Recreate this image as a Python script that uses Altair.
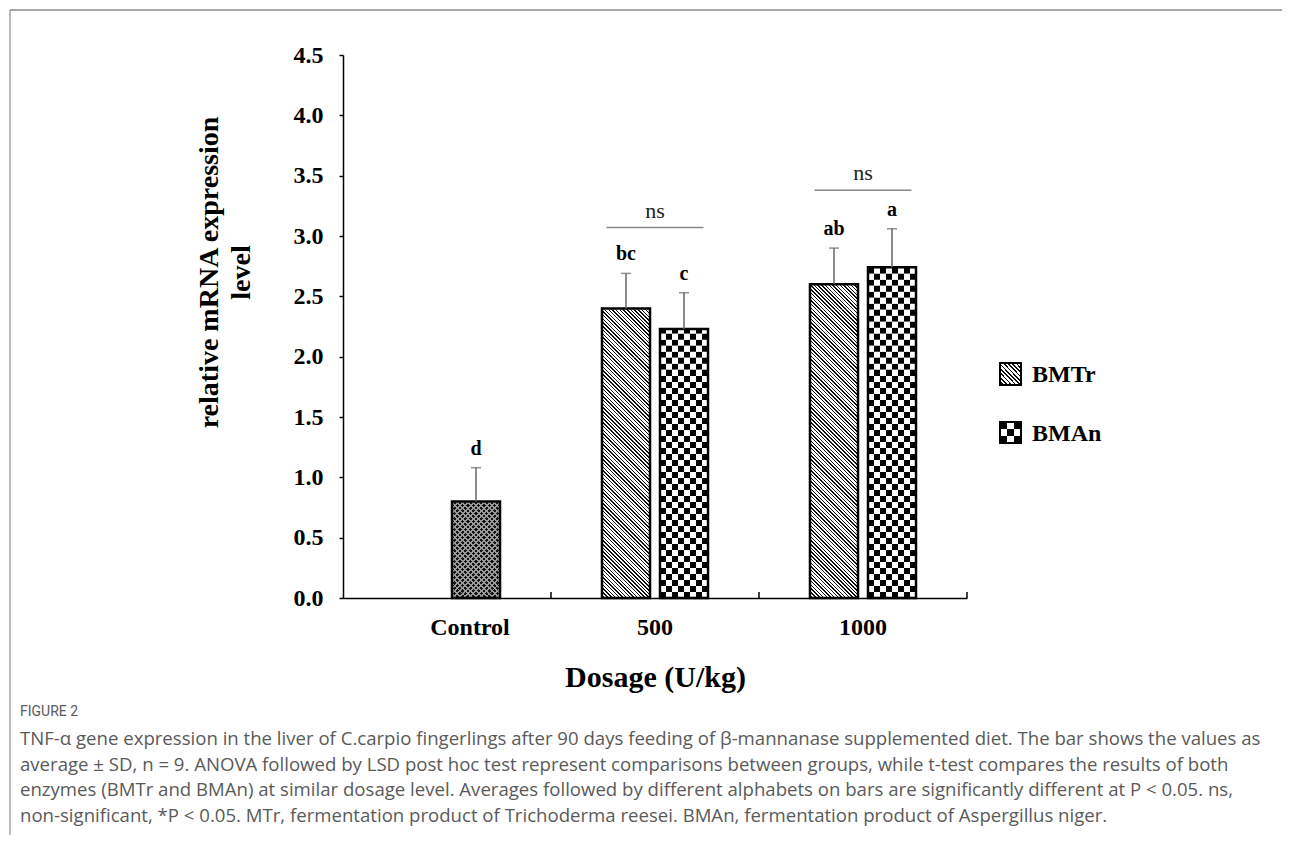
import altair as alt
import pandas as pd

# ---------------- data ----------------
categories = ["Control", "500", "1000"]
bar_cat = ["Control", "500", "500", "1000", "1000"]
bar_series = ["Control", "BMTr", "BMAn", "BMTr", "BMAn"]
bar_slot = ["BMAn", "BMTr", "BMAn", "BMTr", "BMAn"]
bar_mean = [0.80, 2.40, 2.23, 2.60, 2.74]
bar_sd = [0.28, 0.29, 0.30, 0.30, 0.32]
bar_letter = ["d", "bc", "c", "ab", "a"]
ns_cat = ["500", "1000"]
ns_y = [3.07, 3.38]
ns_text = ["ns", "ns"]
y_ticks = [0.0, 0.5, 1.0, 1.5, 2.0, 2.5, 3.0, 3.5, 4.0, 4.5]
legend_series = ["BMTr", "BMAn"]
x_title = "Dosage (U/kg)"
y_title = ["relative mRNA expression", "level"]
caption_head = "FIGURE 2"
caption_lines = [
    "TNF-\u03b1 gene expression in the liver of C.carpio fingerlings after 90 days feeding of \u03b2-mannanase supplemented diet. The bar shows the values as",
    "average \u00b1 SD, n = 9. ANOVA followed by LSD post hoc test represent comparisons between groups, while t-test compares the results of both",
    "enzymes (BMTr and BMAn) at similar dosage level. Averages followed by different alphabets on bars are significantly different at P < 0.05. ns,",
    "non-significant, *P < 0.05. MTr, fermentation product of Trichoderma reesei. BMAn, fermentation product of Aspergillus niger.",
]

bars = pd.DataFrame({
    "cat": bar_cat, "series": bar_series, "slot": bar_slot,
    "mean": bar_mean, "sd": bar_sd, "letter": bar_letter,
})
ns_df = pd.DataFrame({"cat": ns_cat, "y": ns_y, "t": ns_text})
one = pd.DataFrame({"i": [0]})

# ---------------- layout / style ----------------
W, H, YMAX = 624, 543, 4.5
PI, PO = 0.172, 0.879
SERIF = "Liberation Serif"
px_per_unit = H / YMAX
bar_px = (W / 3) / (2 - PI + 2 * PO) * (1 - PI)
TILE = bar_px / px_per_unit          # square tile (data units)
CELL = (bar_px / 8) / px_per_unit    # checker row height


def hstripes(n, first, second):
    stops = []
    for i in range(n):
        c = first if i % 2 == 0 else second
        stops += [{"offset": i / n, "color": c}, {"offset": (i + 1) / n, "color": c}]
    return {"gradient": "linear", "x1": 0, "y1": 0, "x2": 1, "y2": 0, "stops": stops}


def diag(n, line, bg, frac, back=True):
    stops = []
    for i in range(n):
        o, m, e = i / n, min(1.0, (i + frac) / n), min(1.0, (i + 1) / n)
        stops += [{"offset": o, "color": line}, {"offset": m, "color": line},
                  {"offset": m, "color": bg}, {"offset": e, "color": bg}]
    if back:
        g = {"x1": 1, "y1": 0, "x2": 0, "y2": 1}
    else:
        g = {"x1": 0, "y1": 0, "x2": 1, "y2": 1}
    g.update({"gradient": "linear", "stops": stops})
    return g


hatch = diag(26, "#111111", "#ffffff", 0.38, back=True)
mesh1 = diag(18, "#9a9a9a", "#151515", 0.36, back=True)
mesh2 = diag(18, "#9a9a9a", "rgba(0,0,0,0)", 0.36, back=False)
checkA = hstripes(8, "#000000", "#ffffff")
checkB = hstripes(8, "#ffffff", "#000000")
leg_hatch = diag(10, "#111111", "#ffffff", 0.4, back=True)
leg_checkA = hstripes(3, "#000000", "#ffffff")
leg_checkB = hstripes(3, "#ffffff", "#000000")

X = alt.X(
    "cat:N",
    scale=alt.Scale(domain=categories, paddingInner=0, paddingOuter=0),
    axis=alt.Axis(
        title=x_title, titleFont=SERIF, titleFontSize=30, titleFontWeight="bold",
        titleColor="black", titleY=79, titleBaseline="middle",
        labelFont=SERIF, labelFontSize=24, labelFontWeight="bold", labelColor="black",
        labelAngle=0, labelPadding=17, ticks=False, tickSize=0,
        labelOffset={"condition": {"test": "datum.value == 'Control'", "value": 23}, "value": 0},
        domainColor="black", domainWidth=1.5, grid=False,
    ),
)
XO = alt.XOffset("slot:N", scale=alt.Scale(domain=legend_series, paddingInner=PI, paddingOuter=PO))


def Y(field):
    return alt.Y(
        field,
        type="quantitative",
        scale=alt.Scale(domain=[0, YMAX], nice=False, zero=True),
        axis=alt.Axis(
            values=y_ticks, format=".1f",
            labelFont=SERIF, labelFontSize=24, labelFontWeight="bold", labelColor="black",
            labelPadding=16, tickSize=4, tickWidth=1.5, tickColor="black",
            domainColor="black", domainWidth=1.5, grid=False,
            title=y_title, titleFont=SERIF, titleFontSize=28, titleFontWeight="bold",
            titleColor="black", titleAngle=270, titleAlign="center", titleBaseline="top",
            titleX=-148, titleY=217, titleLineHeight=32,
        ),
    )


base = alt.Chart(bars)


def tiles(series, size, clip=False):
    c = base.transform_filter(alt.datum.series == series).transform_calculate(
        k=f"sequence(0, ceil(datum.mean / {size}))"
    ).transform_flatten(["k"])
    if clip:
        c = c.transform_calculate(y0=f"datum.k * {size}", y1=f"min(datum.mean, (datum.k + 1) * {size})",
                                  par="datum.k % 2")
    else:
        c = c.transform_calculate(y0=f"datum.k * {size}", y1=f"(datum.k + 1) * {size}")
    return c


layers = []
# diagonal hatch (BMTr)
layers.append(tiles("BMTr", TILE).mark_rect(fill=hatch).encode(x=X, xOffset=XO, y=Y("y0"), y2="y1:Q"))
# mesh (Control)
layers.append(tiles("Control", TILE).mark_rect(fill=mesh1).encode(x=X, xOffset=XO, y=Y("y0"), y2="y1:Q"))
layers.append(tiles("Control", TILE).mark_rect(fill=mesh2).encode(x=X, xOffset=XO, y=Y("y0"), y2="y1:Q"))
# white cover above the bars' tops
layers.append(
    base.transform_filter(alt.datum.series != "BMAn")
    .transform_calculate(top=f"ceil(datum.mean / {TILE}) * {TILE} + 0.05")
    .mark_rect(fill="white", stroke="white", strokeWidth=1.5)
    .encode(x=X, xOffset=XO, y=Y("mean"), y2="top:Q")
)
# checkerboard (BMAn)
chk = tiles("BMAn", CELL, clip=True)
layers.append(chk.transform_filter("datum.par == 0").mark_rect(fill=checkA)
              .encode(x=X, xOffset=XO, y=Y("y0"), y2="y1:Q"))
layers.append(chk.transform_filter("datum.par == 1").mark_rect(fill=checkB)
              .encode(x=X, xOffset=XO, y=Y("y0"), y2="y1:Q"))
# bar outlines
layers.append(base.mark_rect(fill="transparent", stroke="black", strokeWidth=2.5)
              .encode(x=X, xOffset=XO, y=Y("mean")))
# error bars (upper half)
err = base.transform_calculate(hi="datum.mean + datum.sd")
layers.append(err.mark_rule(color="#666666", strokeWidth=1.5)
              .encode(x=X, xOffset=XO, y=Y("mean"), y2="hi:Q"))
layers.append(err.mark_tick(orient="horizontal", size=10, thickness=1.5, color="#666666")
              .encode(x=X, xOffset=XO, y=Y("hi")))
# significance letters
layers.append(err.mark_text(font=SERIF, fontSize=20, fontWeight="bold", color="black",
                            baseline="alphabetic", dy=-13)
              .encode(x=X, xOffset=XO, y=Y("hi"), text="letter:N"))
# ns brackets
ns = alt.Chart(ns_df)
layers.append(ns.mark_tick(orient="horizontal", size=97, thickness=1.5, color="#555555")
              .encode(x=X, y=Y("y")))
layers.append(ns.mark_text(font=SERIF, fontSize=22, color="#222222", baseline="alphabetic", dy=-10)
              .encode(x=X, y=Y("y"), text="t:N"))
# inward x-axis ticks at category boundaries
bnd = alt.Chart(pd.DataFrame({"cat": ["500", "1000"]}))
layers.append(bnd.mark_rule(color="black", strokeWidth=1.5)
              .encode(x=alt.X("cat:N", bandPosition=0), y=alt.value(H), y2=alt.value(H - 6)))
end = alt.Chart(pd.DataFrame({"cat": ["1000"]}))
layers.append(end.mark_rule(color="black", strokeWidth=1.5)
              .encode(x=alt.X("cat:N", bandPosition=1), y=alt.value(H), y2=alt.value(H - 6)))

# legend
o = alt.Chart(one)
LX0, LX1, LTX = 657, 678, 689
LY = [(308, 330), (367, 388)]
layers.append(o.mark_rect(fill=leg_hatch, stroke="black", strokeWidth=2)
              .encode(x=alt.value(LX0), x2=alt.value(LX1), y=alt.value(LY[0][0]), y2=alt.value(LY[0][1])))
layers.append(o.mark_rect(fill=leg_checkA)
              .encode(x=alt.value(LX0), x2=alt.value(LX1), y=alt.value(LY[1][0]), y2=alt.value(LY[1][1])))
third = (LY[1][1] - LY[1][0]) / 3
layers.append(o.mark_rect(fill=leg_checkB)
              .encode(x=alt.value(LX0), x2=alt.value(LX1), y=alt.value(LY[1][0] + third),
                      y2=alt.value(LY[1][0] + 2 * third)))
layers.append(o.mark_rect(fill="transparent", stroke="black", strokeWidth=2)
              .encode(x=alt.value(LX0), x2=alt.value(LX1), y=alt.value(LY[1][0]), y2=alt.value(LY[1][1])))
for name, (a, b) in zip(legend_series, LY):
    layers.append(o.mark_text(text=name, font=SERIF, fontSize=24, fontWeight="bold", color="black",
                              align="left", baseline="middle")
                  .encode(x=alt.value(LTX), y=alt.value((a + b) / 2 + 1)))

# figure frame
layers.append(o.mark_rule(color="#555555", strokeWidth=1.2)
              .encode(x=alt.value(-333), x2=alt.value(960), y=alt.value(-45)))
layers.append(o.mark_rule(color="#777777", strokeWidth=1)
              .encode(x=alt.value(-333), y=alt.value(-45), y2=alt.value(790)))

# caption
layers.append(o.mark_text(text=caption_head, font="Roboto", fontSize=14, color="#5a5a5a",
                          align="left", baseline="middle")
              .encode(x=alt.value(-323), y=alt.value(657)))
layers.append(o.mark_text(text=caption_lines, font="Open Sans", fontSize=18.6, color="#5a5a5a",
                          align="left", baseline="middle", lineHeight=25.5)
              .encode(x=alt.value(-323), y=alt.value(684)))

chart = alt.layer(*layers).properties(
    width=W, height=H,
    padding={"left": 335, "top": 47, "right": 315, "bottom": 237},
    autosize=alt.AutoSizeParams(type="none"),
    background="white",
).configure_view(strokeWidth=0)

chart.save("out.html", embed_options={"renderer": "svg", "actions": False})
